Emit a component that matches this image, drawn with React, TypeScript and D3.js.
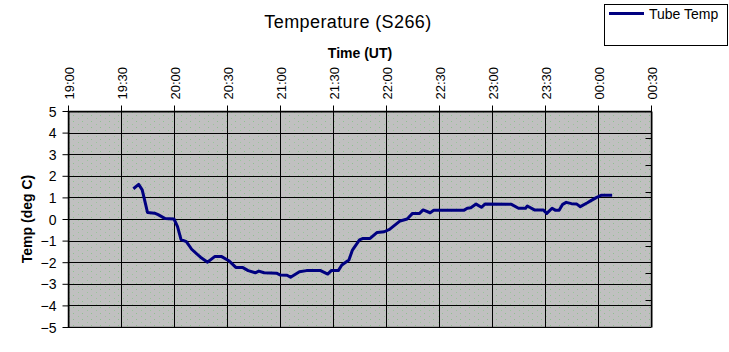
import React, { useEffect, useRef } from 'react';
import * as d3 from 'd3';

// readings of the tube temperature, clock time (UT) and deg C
const times = [
  '19:37', '19:40', '19:42', '19:44', '19:45', '19:49', '19:51', '19:55', '20:00', '20:02',
  '20:04', '20:07', '20:10', '20:15', '20:19', '20:23', '20:27', '20:31', '20:35', '20:39',
  '20:42', '20:46', '20:48', '20:51', '20:58', '21:00', '21:04', '21:06', '21:11', '21:15',
  '21:23', '21:25', '21:27', '21:29', '21:33', '21:35', '21:39', '21:41', '21:45', '21:47',
  '21:51', '21:55', '21:59', '22:02', '22:08', '22:12', '22:15', '22:19', '22:21', '22:25',
  '22:27', '22:44', '22:46', '22:48', '22:51', '22:54', '22:56', '23:11', '23:15', '23:19',
  '23:20', '23:24', '23:29', '23:31', '23:34', '23:36', '23:38', '23:40', '23:42', '23:45',
  '23:48', '23:50', '23:54', '23:56', '23:59', '00:02', '00:08',
];
const tubeTemp = [
  1.4, 1.6, 1.35, 0.65, 0.3, 0.27, 0.2, 0.02, 0.0, -0.35,
  -0.95, -1.05, -1.4, -1.77, -2.0, -1.74, -1.74, -1.93, -2.24, -2.25,
  -2.39, -2.49, -2.41, -2.49, -2.51, -2.59, -2.6, -2.7, -2.44, -2.39,
  -2.39, -2.47, -2.55, -2.39, -2.39, -2.13, -1.9, -1.44, -0.97, -0.9,
  -0.9, -0.62, -0.59, -0.48, -0.09, 0.0, 0.26, 0.26, 0.42, 0.29,
  0.4, 0.4, 0.5, 0.52, 0.69, 0.54, 0.69, 0.68, 0.5, 0.5,
  0.6, 0.42, 0.42, 0.26, 0.5, 0.4, 0.4, 0.68, 0.77, 0.71,
  0.69, 0.57, 0.75, 0.85, 0.99, 1.1, 1.1,
];
const timeTicks = ['19:00', '19:30', '20:00', '20:30', '21:00', '21:30', '22:00', '22:30', '23:00', '23:30', '00:00', '00:30'];
const tempTicks = [-5, -4, -3, -2, -1, 0, 1, 2, 3, 4, 5];

const parse = d3.timeParse('%H:%M');
// times before noon belong to the next day
const toDate = (s: string) => {
  const d = parse(s) as Date;
  if (d.getHours() < 12) d.setDate(d.getDate() + 1);
  return d;
};

const App = () => {
  const svgRef = useRef<SVGSVGElement>(null);

  useEffect(() => {
    const svg = d3.select(svgRef.current);
    svg.selectAll('*').remove();

    const left = 68, right = 651, top = 111, bottom = 327;
    const font = 'Liberation Sans, Arial, sans-serif';

    const x = d3.scaleTime()
      .domain([toDate(timeTicks[0]), toDate(timeTicks[timeTicks.length - 1])])
      .range([left, right]);
    const y = d3.scaleLinear().domain([-5, 5]).range([bottom, top]);

    // Excel-style grey plot area with faint green dots
    const defs = svg.append('defs');
    const pat = defs.append('pattern')
      .attr('id', 'dots')
      .attr('patternUnits', 'userSpaceOnUse')
      .attr('width', 9).attr('height', 6);
    pat.append('rect').attr('width', 9).attr('height', 6).attr('fill', '#c0c0c0');
    pat.append('rect').attr('x', 1).attr('y', 1).attr('width', 1).attr('height', 1).attr('fill', '#8fc08f');
    pat.append('rect').attr('x', 6).attr('y', 4).attr('width', 1).attr('height', 1).attr('fill', '#9ac49a');

    svg.append('rect')
      .attr('x', left).attr('y', top)
      .attr('width', right - left).attr('height', bottom - top)
      .attr('fill', 'url(#dots)')
      .attr('stroke', '#808080');

    // gridlines
    svg.append('g')
      .selectAll('line')
      .data(tempTicks)
      .join('line')
      .attr('x1', left).attr('x2', right)
      .attr('y1', d => Math.round(y(d)) + 0.5).attr('y2', d => Math.round(y(d)) + 0.5)
      .attr('stroke', '#000');
    svg.append('g')
      .selectAll('line')
      .data(timeTicks.map(toDate))
      .join('line')
      .attr('x1', d => Math.round(x(d)) + 0.5).attr('x2', d => Math.round(x(d)) + 0.5)
      .attr('y1', top).attr('y2', bottom)
      .attr('stroke', '#000');

    // top time axis
    const xAxis = svg.append('g')
      .attr('transform', `translate(0,${top + 0.5})`)
      .call(d3.axisTop(x)
        .tickValues(timeTicks.map(toDate))
        .tickFormat(d3.timeFormat('%H:%M') as any)
        .tickSize(6)
        .tickSizeOuter(0));
    xAxis.select('.domain').attr('stroke', '#000');
    xAxis.selectAll('.tick line').attr('stroke', '#000');
    xAxis.selectAll('.tick text')
      .attr('font-family', font)
      .attr('font-size', 13)
      .attr('fill', '#000')
      .attr('text-anchor', 'start')
      .attr('transform', 'translate(5,-12) rotate(-90)')
      .attr('x', 0).attr('y', 0).attr('dy', 0);

    // left temperature axis
    const yAxis = svg.append('g')
      .attr('transform', `translate(${left + 0.5},0)`)
      .call(d3.axisLeft(y).tickValues(tempTicks).tickSize(6).tickSizeOuter(0).tickFormat(d3.format('d')));
    yAxis.select('.domain').attr('stroke', '#000');
    yAxis.selectAll('.tick line').attr('stroke', '#000');
    yAxis.selectAll('.tick text')
      .attr('font-family', font)
      .attr('font-size', 14)
      .attr('fill', '#000')
      .attr('x', -12)
      .attr('dy', '0.36em');

    // right edge with unlabelled ticks (8 divisions)
    const y2 = d3.scaleLinear().domain([0, 8]).range([bottom, top]);
    const rAxis = svg.append('g')
      .attr('transform', `translate(${right + 0.5},0)`)
      .call(d3.axisLeft(y2).ticks(8).tickSize(6).tickSizeOuter(0).tickFormat(() => ''));
    rAxis.select('.domain').attr('stroke', '#000');
    rAxis.selectAll('.tick line').attr('stroke', '#000');

    // series
    const pts = times.map((t, i) => ({ t: toDate(t), v: tubeTemp[i] }));
    svg.append('path')
      .datum(pts)
      .attr('fill', 'none')
      .attr('stroke', '#000080')
      .attr('stroke-width', 3)
      .attr('stroke-linejoin', 'round')
      .attr('d', d3.line<{ t: Date; v: number }>().x(d => x(d.t)).y(d => y(d.v)));

    // titles
    svg.append('text')
      .attr('x', 348).attr('y', 28)
      .attr('text-anchor', 'middle')
      .attr('font-family', font)
      .attr('font-size', 18)
      .attr('letter-spacing', 0.4)
      .text('Temperature (S266)');
    svg.append('text')
      .attr('x', 360).attr('y', 58)
      .attr('text-anchor', 'middle')
      .attr('font-family', font)
      .attr('font-size', 14)
      .attr('font-weight', 'bold')
      .text('Time (UT)');
    svg.append('text')
      .attr('transform', `translate(32,219) rotate(-90)`)
      .attr('text-anchor', 'middle')
      .attr('font-family', font)
      .attr('font-size', 14)
      .attr('font-weight', 'bold')
      .text('Temp (deg C)');

    // legend
    const lg = svg.append('g');
    lg.append('rect')
      .attr('x', 604.5).attr('y', 4.5)
      .attr('width', 123).attr('height', 41)
      .attr('fill', '#fff').attr('stroke', '#000');
    lg.append('line')
      .attr('x1', 609).attr('x2', 644)
      .attr('y1', 13.5).attr('y2', 13.5)
      .attr('stroke', '#000080').attr('stroke-width', 3);
    lg.append('text')
      .attr('x', 649).attr('y', 18.5)
      .attr('font-family', font)
      .attr('font-size', 14)
      .text('Tube Temp');
  }, []);

  return (
    <svg
      ref={svgRef}
      width={729}
      height={352}
      style={{ position: 'absolute', left: 0, top: 0, background: '#fff' }}
    />
  );
};

export default App;
